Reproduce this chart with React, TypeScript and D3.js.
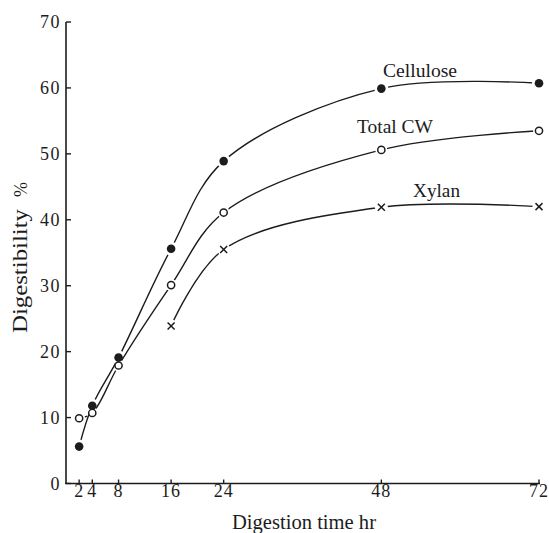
import React from "react";
import * as d3 from "d3";

const cellulose: [number, number][] = [[2, 5.6], [4, 11.8], [8, 19.1], [16, 35.6], [24, 48.9], [48, 59.9], [72, 60.7]];
const totalCW: [number, number][] = [[2, 9.9], [4, 10.7], [8, 17.9], [16, 30.1], [24, 41.1], [48, 50.6], [72, 53.5]];
const xylan: [number, number][] = [[16, 23.9], [24, 35.5], [48, 41.9], [72, 42.0]];

const xTicks = [2, 4, 8, 16, 24, 48, 72];
const yTicks = [0, 10, 20, 30, 40, 50, 60, 70];

const seriesNames = ["Cellulose", "Total CW", "Xylan"];
const seriesMarkers = ["filled", "open", "cross"];

const W = 549;
const H = 533;
const FONT = "'Liberation Serif', 'DejaVu Serif', serif";
const INK = "#1c1c1c";

export default function App() {
  const x = d3.scaleLinear().domain([0, 72]).range([66, 539]);
  const y = d3.scaleLinear().domain([0, 70]).range([483.5, 22]);
  const line = d3
    .line<[number, number]>()
    .x((d) => x(d[0]))
    .y((d) => y(d[1]))
    .curve(d3.curveCatmullRom.alpha(0.5));

  const data = [cellulose, totalCW, xylan];
  const gapR = [7, 6, 6.5];

  const labels = [
    { text: seriesNames[0], x: 383, y: 77, len: 74 },
    { text: seriesNames[1], x: 357, y: 133, len: 76 },
    { text: seriesNames[2], x: 413, y: 197, len: 47 },
  ];

  return (
    <svg width={W} height={H} style={{ position: "absolute", left: 0, top: 0, background: "#fff" }}>
      <rect width={W} height={H} fill="#fff" />
      <defs>
        {data.map((s, i) => (
          <mask id={`m${i}`} key={i} maskUnits="userSpaceOnUse" x={0} y={0} width={W} height={H}>
            <rect x={0} y={0} width={W} height={H} fill="#fff" />
            {s.map((d, j) => (
              <circle key={j} cx={x(d[0])} cy={y(d[1])} r={gapR[i]} fill="#000" />
            ))}
          </mask>
        ))}
      </defs>

      {/* axes */}
      <line x1={x(0)} x2={x(0)} y1={y(70)} y2={y(0)} stroke={INK} strokeWidth={1.6} />
      <line x1={x(0) - 1} x2={x(72) + 1} y1={y(0)} y2={y(0)} stroke={INK} strokeWidth={1.6} />
      {yTicks.map((t) => (
        <g key={t}>
          <line x1={x(0)} x2={x(0) + 5} y1={y(t)} y2={y(t)} stroke={INK} strokeWidth={1.4} />
          <text
            x={61}
            y={y(t) + 6}
            textAnchor="end"
            fontFamily={FONT}
            fontSize={18}
            letterSpacing={1.5}
            fill={INK}
          >
            {t}
          </text>
        </g>
      ))}
      {xTicks.map((t) => (
        <g key={t}>
          <line x1={x(t)} x2={x(t)} y1={y(0)} y2={y(0) - 4} stroke={INK} strokeWidth={1.4} />
          <text
            x={x(t)}
            y={497}
            textAnchor="middle"
            fontFamily={FONT}
            fontSize={18}
            letterSpacing={1}
            fill={INK}
          >
            {t}
          </text>
        </g>
      ))}
      <text x={232} y={529} fontFamily={FONT} fontSize={20} fill={INK} textLength={144} lengthAdjust="spacingAndGlyphs">
        Digestion time hr
      </text>
      <g transform="translate(27,333) rotate(-90)">
        <text x={0} y={0} fontFamily={FONT} fontSize={20} fill={INK} textLength={124} lengthAdjust="spacingAndGlyphs">
          Digestibility
        </text>
        <text x={136} y={0} fontFamily={FONT} fontSize={18} fill={INK}>
          %
        </text>
      </g>

      {/* curves */}
      {data.map((s, i) => (
        <path key={i} d={line(s) || ""} fill="none" stroke={INK} strokeWidth={1.4} mask={`url(#m${i})`} />
      ))}

      {/* markers */}
      {data.map((s, i) =>
        s.map((d, j) => {
          const cx = x(d[0]);
          const cy = y(d[1]);
          const m = seriesMarkers[i];
          if (m === "filled") return <circle key={`${i}-${j}`} cx={cx} cy={cy} r={4.3} fill={INK} />;
          if (m === "open")
            return <circle key={`${i}-${j}`} cx={cx} cy={cy} r={3.6} fill="#fff" stroke={INK} strokeWidth={1.5} />;
          return (
            <g key={`${i}-${j}`} stroke={INK} strokeWidth={1.5}>
              <line x1={cx - 3.5} x2={cx + 3.5} y1={cy - 3.5} y2={cy + 3.5} />
              <line x1={cx - 3.5} x2={cx + 3.5} y1={cy + 3.5} y2={cy - 3.5} />
            </g>
          );
        })
      )}

      {/* series labels */}
      {labels.map((l) => (
        <text
          key={l.text}
          x={l.x}
          y={l.y}
          fontFamily={FONT}
          fontSize={19}
          fill={INK}
          textLength={l.len}
          lengthAdjust="spacingAndGlyphs"
        >
          {l.text}
        </text>
      ))}
    </svg>
  );
}
